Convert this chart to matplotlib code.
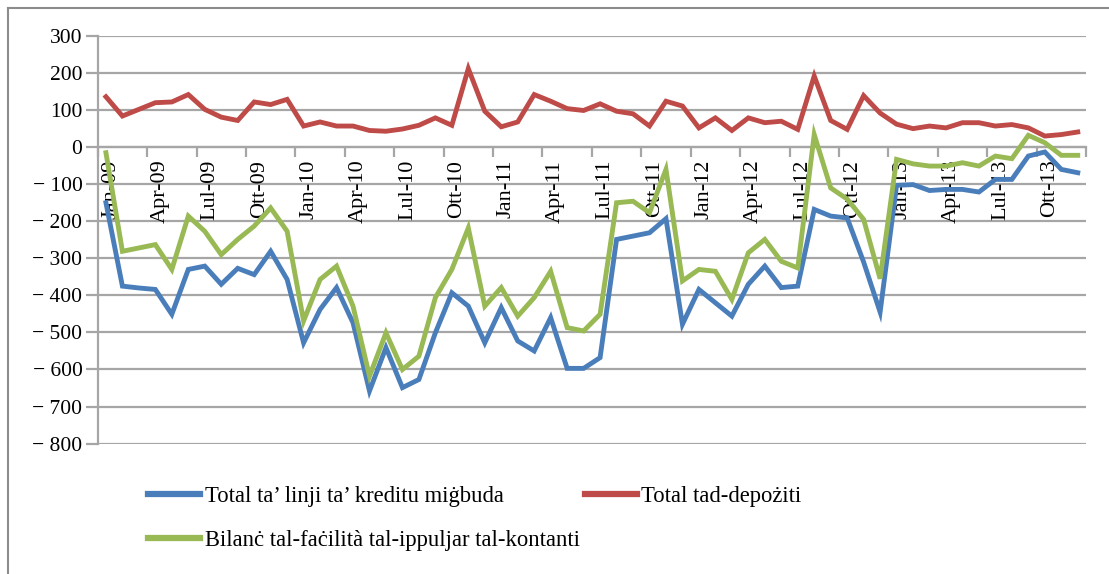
import matplotlib
matplotlib.use("Agg")
import matplotlib.pyplot as plt
from matplotlib.lines import Line2D
from matplotlib.transforms import ScaledTranslation

plt.rcParams['font.family'] = ['Liberation Serif', 'DejaVu Serif']

months = ["Jan", "Feb", "Mar", "Apr", "Mag", "Ġun", "Lul", "Aww", "Set", "Ott", "Nov", "Diċ"]
years = ["09", "10", "11", "12", "13"]
categories = [f"{m}-{y}" for y in years for m in months]

# Total ta' linji ta' kreditu miġbuda (blue)
credit_lines = [
    -150, -375, -380, -384, -451, -330, -321, -370, -327, -344, -281, -357,
    -528, -438, -379, -474, -658, -541, -649, -627, -501, -393, -429, -528,
    -433, -523, -550, -460, -597, -597, -568, -249, -240, -231, -193, -478,
    -384, -420, -456, -370, -321, -379, -375, -168, -186, -191, -310, -445,
    -103, -101, -117, -114, -114, -121, -87, -87, -24, -13, -60, -69,
]
# Total tad-depożiti (red)
deposits = [
    136, 84, 102, 120, 122, 142, 102, 81, 72, 122, 115, 129,
    57, 68, 57, 57, 45, 43, 49, 59, 79, 59, 212, 97,
    55, 68, 142, 124, 104, 99, 117, 97, 90, 57, 124, 111,
    52, 79, 45, 79, 66, 70, 48, 192, 72, 48, 139, 92,
    62, 50, 57, 52, 66, 66, 57, 61, 52, 30, 34, 41,
]
# Bilanċ tal-faċilità tal-ippuljar tal-kontanti (green)
cash_pool = [
    -15, -281, -272, -263, -330, -186, -227, -290, -249, -213, -164, -227,
    -469, -357, -321, -429, -618, -501, -600, -564, -406, -330, -218, -429,
    -379, -456, -406, -335, -487, -496, -451, -150, -146, -177, -60, -361,
    -330, -335, -411, -285, -249, -308, -326, 34, -110, -140, -195, -355,
    -33, -45, -51, -51, -42, -51, -24, -31, 32, 12, -22, -22,
]

series_labels = [
    "Total ta’ linji ta’ kreditu miġbuda",
    "Total tad-depożiti",
    "Bilanċ tal-faċilità tal-ippuljar tal-kontanti",
]
colors = ["#4A7EBB", "#BE4B48", "#98B954"]
yticks = [300, 200, 100, 0, -100, -200, -300, -400, -500, -600, -700, -800]
ytick_labels = [str(v) if v >= 0 else "− " + str(-v) for v in yticks]

W, H = 1109, 574
fig = plt.figure(figsize=(W / 100, H / 100), dpi=100)
ax = fig.add_axes([97.7 / W, 1 - 443.6 / H, (1086 - 97.7) / W, (443.6 - 36) / H])

x = list(range(len(categories)))
grid_c = "#a6a6a6"
for yv in yticks:
    ax.axhline(yv, color=grid_c, lw=1.6, zorder=1)

for data, c in zip([credit_lines, deposits, cash_pool], colors):
    ax.plot(x, data, color=c, lw=3.5, solid_joinstyle='miter', zorder=3)

ax.set_xlim(-0.5, len(categories) - 0.5)
ax.set_ylim(-800, 300)
ax.set_yticks(yticks)
ax.set_yticklabels(ytick_labels, fontsize=15.5)
ax.tick_params(axis='y', length=9, width=1.6, color=grid_c, pad=2)

# x axis crossing at zero
ax.spines['bottom'].set_position(('data', 0))
for s in ['top', 'right']:
    ax.spines[s].set_visible(False)
ax.spines['bottom'].set_color(grid_c)
ax.spines['bottom'].set_linewidth(1.6)
ax.spines['left'].set_color(grid_c)
ax.spines['left'].set_linewidth(1.6)

boundaries = [i - 0.5 for i in range(0, len(categories) + 1, 3)]
ax.set_xticks(boundaries)
ax.set_xticklabels([])
ax.tick_params(axis='x', which='major', length=7, width=1.6, color=grid_c, direction='out')
label_pos = list(range(0, len(categories), 3))
ax.set_xticks(label_pos, minor=True)
ax.set_xticklabels([categories[i] for i in label_pos], minor=True, rotation=90,
                   fontsize=16, va='top', ha='center')
ax.tick_params(axis='x', which='minor', length=0, pad=9)
for lab in ax.get_xticklabels(minor=True):
    lab.set_transform(lab.get_transform() + ScaledTranslation(5 / 100, 0, fig.dpi_scale_trans))

# legend
handles = [Line2D([], [], color=c, lw=4.5) for c in colors]
order = [0, 2, 1]
fig.legend([handles[i] for i in order], [series_labels[i] for i in order],
           loc='upper left', bbox_to_anchor=(128 / W, 1 - 466 / H), ncol=2,
           frameon=False, fontsize=16.3, handlelength=2.3, handletextpad=0.2,
           labelspacing=1.0, columnspacing=0.2)

# outer frame (left and top)
fig.add_artist(Line2D([8 / W, 8 / W], [0, 1 - 8 / H], color="#8c8c8c", lw=1.5, transform=fig.transFigure))
fig.add_artist(Line2D([8 / W, 1], [1 - 8 / H, 1 - 8 / H], color="#8c8c8c", lw=1.5, transform=fig.transFigure))

fig.savefig("out.png", dpi=100)
